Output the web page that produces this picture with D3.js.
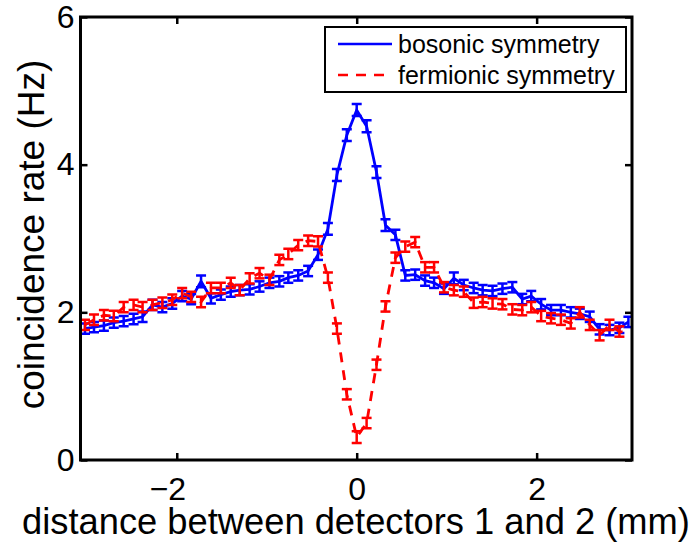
<!DOCTYPE html>
<html>
<head>
<meta charset="utf-8">
<script src="https://cdn.jsdelivr.net/npm/d3@7"></script>
<style>
  body { margin: 0; background: #fff; }
  text { font-family: "Liberation Sans", Arial, Helvetica, sans-serif; fill: #000; }
</style>
</head>
<body>
<svg id="chart"></svg>
<script>
// detector separation (mm)
const positions = [-3.02,-2.92,-2.81,-2.70,-2.59,-2.48,-2.38,-2.27,-2.16,-2.05,-1.94,-1.84,-1.73,-1.62,-1.51,-1.40,-1.30,-1.19,-1.08,-0.97,-0.86,-0.76,-0.65,-0.54,-0.43,-0.32,-0.22,-0.11,
  0,
  0.11,0.22,0.32,0.43,0.54,0.65,0.76,0.86,0.97,1.08,1.19,1.30,1.40,1.51,1.62,1.73,1.84,1.94,2.05,2.16,2.27,2.38,2.48,2.59,2.70,2.81,2.92,3.02];

// coincidence rates (Hz)
const bosonic = [1.78,1.80,1.82,1.86,1.88,1.91,1.94,2.10,2.07,2.12,2.22,2.18,2.42,2.19,2.24,2.28,2.30,2.31,2.35,2.40,2.42,2.47,2.50,2.56,2.78,3.13,3.86,4.40,
  4.74,
  4.52,3.90,3.18,3.05,2.50,2.51,2.43,2.40,2.32,2.46,2.37,2.33,2.30,2.29,2.32,2.34,2.18,2.22,2.11,2.03,2.03,2.00,1.98,1.94,1.77,1.76,1.79,1.87];
const bosonicErr = [0.07,0.07,0.07,0.07,0.07,0.07,0.07,0.07,0.07,0.07,0.07,0.07,0.08,0.07,0.07,0.07,0.07,0.07,0.07,0.07,0.07,0.07,0.07,0.07,0.07,0.08,0.08,0.08,
  0.08,
  0.08,0.08,0.08,0.07,0.07,0.07,0.07,0.07,0.07,0.08,0.07,0.07,0.07,0.07,0.07,0.07,0.07,0.07,0.07,0.07,0.07,0.07,0.07,0.07,0.07,0.07,0.07,0.07];

const fermionic = [1.83,1.90,1.96,1.95,2.07,2.10,2.07,2.10,2.13,2.17,2.26,2.21,2.14,2.33,2.33,2.40,2.30,2.46,2.53,2.44,2.71,2.79,2.91,2.97,2.96,2.47,1.78,0.89,
  0.31,
  0.50,1.29,2.08,2.74,2.89,2.95,2.61,2.61,2.34,2.30,2.28,2.13,2.14,2.12,2.11,2.04,2.03,2.07,1.95,1.92,1.90,1.85,2.00,1.83,1.69,1.83,1.74,1.73];
const fermionicErr = [0.07,0.07,0.07,0.07,0.07,0.07,0.07,0.07,0.07,0.07,0.07,0.07,0.07,0.07,0.07,0.07,0.07,0.07,0.07,0.07,0.07,0.07,0.07,0.07,0.07,0.07,0.07,0.07,
  0.08,
  0.07,0.07,0.07,0.07,0.07,0.07,0.07,0.07,0.07,0.07,0.07,0.07,0.07,0.07,0.07,0.07,0.07,0.07,0.07,0.07,0.07,0.07,0.07,0.07,0.07,0.07,0.07];

const xTicks = [-2, 0, 2];
const yTicks = [0, 2, 4, 6];

const W = 693, H = 543;
const plot = { left: 80.5, right: 632, top: 17, bottom: 460 };

const svg = d3.select("#chart").attr("width", W).attr("height", H);

const x = d3.scaleLinear().domain([-3.07, 3.06]).range([plot.left, plot.right]);
const y = d3.scaleLinear().domain([0, 6]).range([plot.bottom, plot.top]);

svg.append("defs").append("clipPath").attr("id", "clip")
  .append("rect")
  .attr("x", plot.left).attr("y", plot.top)
  .attr("width", plot.right - plot.left).attr("height", plot.bottom - plot.top);

// series
const series = [
  { name: "bosonic symmetry", values: bosonic, err: bosonicErr, color: "#0000ff", dash: null },
  { name: "fermionic symmetry", values: fermionic, err: fermionicErr, color: "#ff0000", dash: "10,8" }
];

const line = d3.line().x(d => x(d.x)).y(d => y(d.y));
const capHalf = 5;

const plotArea = svg.append("g").attr("clip-path", "url(#clip)");

series.forEach(s => {
  const pts = positions.map((p, i) => ({ x: p, y: s.values[i], e: s.err[i] }));
  const g = plotArea.append("g");

  g.append("path")
    .datum(pts)
    .attr("fill", "none")
    .attr("stroke", s.color)
    .attr("stroke-width", 2.8)
    .attr("stroke-dasharray", s.dash)
    .attr("d", line);

  const bars = g.selectAll(".eb").data(pts).enter().append("g").attr("class", "eb")
    .attr("stroke", s.color).attr("stroke-width", 2.5);
  bars.append("line")
    .attr("x1", d => x(d.x)).attr("x2", d => x(d.x))
    .attr("y1", d => y(d.y - d.e)).attr("y2", d => y(d.y + d.e));
  bars.append("line")
    .attr("x1", d => x(d.x) - capHalf).attr("x2", d => x(d.x) + capHalf)
    .attr("y1", d => y(d.y + d.e)).attr("y2", d => y(d.y + d.e));
  bars.append("line")
    .attr("x1", d => x(d.x) - capHalf).attr("x2", d => x(d.x) + capHalf)
    .attr("y1", d => y(d.y - d.e)).attr("y2", d => y(d.y - d.e));
});

// axes, ticks pointing inward
const tickLen = 7;
const fmt = d3.format("d");

const xAxis = svg.append("g").attr("transform", `translate(0,${plot.bottom})`)
  .call(d3.axisBottom(x).tickValues(xTicks).tickFormat(fmt).tickSize(-tickLen).tickSizeOuter(0).tickPadding(17));
const yAxis = svg.append("g").attr("transform", `translate(${plot.left},0)`)
  .call(d3.axisLeft(y).tickValues(yTicks).tickFormat(fmt).tickSize(-tickLen).tickSizeOuter(0).tickPadding(6));
const xTop = svg.append("g").attr("transform", `translate(0,${plot.top})`)
  .call(d3.axisTop(x).tickValues(xTicks).tickFormat("").tickSize(-tickLen).tickSizeOuter(0));
const yRight = svg.append("g").attr("transform", `translate(${plot.right},0)`)
  .call(d3.axisRight(y).tickValues(yTicks).tickFormat("").tickSize(-tickLen).tickSizeOuter(0));

[xAxis, yAxis, xTop, yRight].forEach(a => {
  a.select(".domain").remove();
  a.selectAll(".tick line").attr("stroke", "#000").attr("stroke-width", 2.5);
});

// x labels: digit centred on the tick, minus sign hangs to the left
xAxis.selectAll(".tick text")
  .attr("font-size", 32).attr("font-family", null)
  .attr("text-anchor", "end").attr("x", 8.9);
yAxis.selectAll(".tick text")
  .attr("font-size", 32).attr("font-family", null);

// frame
svg.append("rect")
  .attr("x", plot.left).attr("y", plot.top)
  .attr("width", plot.right - plot.left).attr("height", plot.bottom - plot.top)
  .attr("fill", "none").attr("stroke", "#000").attr("stroke-width", 3);

// axis titles
svg.append("text")
  .attr("x", 356).attr("y", 534)
  .attr("text-anchor", "middle").attr("font-size", 36.3)
  .text("distance between detectors 1 and 2 (mm)");

svg.append("text")
  .attr("transform", `translate(44,${(plot.top + plot.bottom) / 2 - 4}) rotate(-90)`)
  .attr("text-anchor", "middle").attr("font-size", 37)
  .text("coincidence rate (Hz)");

// legend
const legend = svg.append("g");
legend.append("rect")
  .attr("x", 325).attr("y", 27).attr("width", 301).attr("height", 65)
  .attr("fill", "#fff").attr("stroke", "#000").attr("stroke-width", 2);

series.forEach((s, i) => {
  const ly = 44 + i * 31;
  legend.append("line")
    .attr("x1", 338).attr("x2", 392).attr("y1", ly).attr("y2", ly)
    .attr("stroke", s.color).attr("stroke-width", 2.5)
    .attr("stroke-dasharray", s.dash);
  legend.append("text")
    .attr("x", 398).attr("y", ly + 9)
    .attr("font-size", 25)
    .text(s.name);
});
</script>
</body>
</html>
